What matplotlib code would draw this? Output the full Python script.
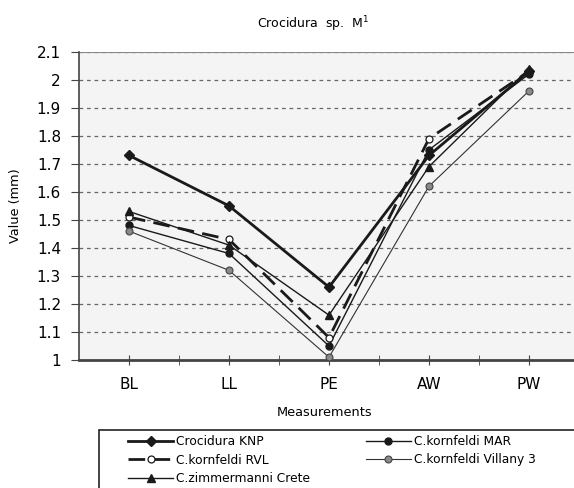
import matplotlib
matplotlib.use("Agg")
import matplotlib.pyplot as plt
from matplotlib.patches import Rectangle
import numpy as np

categories = ["BL", "LL", "PE", "AW", "PW"]
knp = [1.73, 1.55, 1.26, 1.73, 2.03]
mar = [1.48, 1.38, 1.05, 1.75, 2.02]
rvl = [1.51, 1.43, 1.08, 1.79, 2.03]
villany = [1.46, 1.32, 1.01, 1.62, 1.96]
zimm = [1.53, 1.41, 1.16, 1.69, 2.04]

plt.rcParams['font.family'] = ['DejaVu Sans']

W, H = 574, 488
fig = plt.figure(figsize=(W / 100, H / 100), dpi=100)
left, right, top, bottom = 79, 579, 51.7, 360
ax = fig.add_axes([left / W, 1 - bottom / H, (right - left) / W, (bottom - top) / H])
ax.set_facecolor("#f4f4f4")

x = np.arange(len(categories))
ax.plot(x, knp, color="#1a1a1a", lw=2.0, marker="D", ms=5, mfc="#1a1a1a", mec="#1a1a1a",
        label="Crocidura KNP", zorder=5)
ax.plot(x, mar, color="#1a1a1a", lw=1.0, marker="o", ms=5, mfc="#1a1a1a", mec="#1a1a1a",
        label="C.kornfeldi MAR", zorder=4)
ax.plot(x, rvl, color="#1a1a1a", lw=2.0, dashes=(6, 3), marker="o", ms=5, mfc="white",
        mec="#1a1a1a", mew=0.9, label="C.kornfeldi RVL", zorder=4)
ax.plot(x, villany, color="#333333", lw=0.8, marker="o", ms=5, mfc="#8a8a8a", mec="#444444",
        mew=0.8, label="C.kornfeldi Villany 3", zorder=4)
ax.plot(x, zimm, color="#1a1a1a", lw=1.0, marker="^", ms=6, mfc="#1a1a1a", mec="#1a1a1a",
        label="C.zimmermanni Crete", zorder=4)

ax.set_xlim(-0.5, len(categories) - 0.5)
ax.set_ylim(1.0, 2.1)
ax.set_yticks(np.round(np.arange(1.0, 2.11, 0.1), 1))
ax.set_yticklabels(["1", "1.1", "1.2", "1.3", "1.4", "1.5", "1.6", "1.7", "1.8", "1.9", "2", "2.1"])
ax.set_xticks(x)
ax.set_xticklabels(categories)
ax.set_xticks(np.arange(-0.5, len(categories), 1.0)[1:], minor=True)
ax.yaxis.grid(True, color="#666666", ls=(0, (3, 3)), lw=0.9)
ax.set_axisbelow(True)
for s in ["top", "right"]:
    ax.spines[s].set_visible(False)
ax.spines["left"].set_color("#444444")
ax.spines["left"].set_linewidth(1.2)
ax.spines["bottom"].set_color("#444444")
ax.spines["bottom"].set_linewidth(2.0)
ax.tick_params(axis="y", direction="out", length=6, color="#444444", labelsize=11, pad=7)
ax.tick_params(axis="x", which="both", direction="inout", length=7, color="#444444",
               labelsize=11, pad=9)
ax.axhline(2.1, color="#888888", lw=1.5, zorder=1)

fig.text(313 / W, 1 - 24 / H, "Crocidura  sp.  M$^1$", ha="center", va="center", fontsize=9)
fig.text(325 / W, 1 - 412 / H, "Measurements", ha="center", va="center", fontsize=9.3)
fig.text(16 / W, 1 - 206 / H, "Value (mm)", ha="center", va="center", rotation=90, fontsize=9.3)

fig.patches.append(Rectangle((99 / W, 1 - 520 / H), 500 / W, 90 / H, transform=fig.transFigure,
                             facecolor="none", edgecolor="#222222", lw=1.2))

handles, labels = ax.get_legend_handles_labels()
order = [0, 2, 4, 1, 3]
leg = fig.legend([handles[i] for i in order], [labels[i] for i in order],
                 loc="upper left", bbox_to_anchor=(128 / W, 1 - 435 / H),
                 ncol=2, frameon=False, fontsize=8.8,
                 handlelength=3.7, handletextpad=0.2, labelspacing=0.45, borderpad=0,
                 columnspacing=4.6, borderaxespad=0)

fig.savefig("out.png", dpi=100)
